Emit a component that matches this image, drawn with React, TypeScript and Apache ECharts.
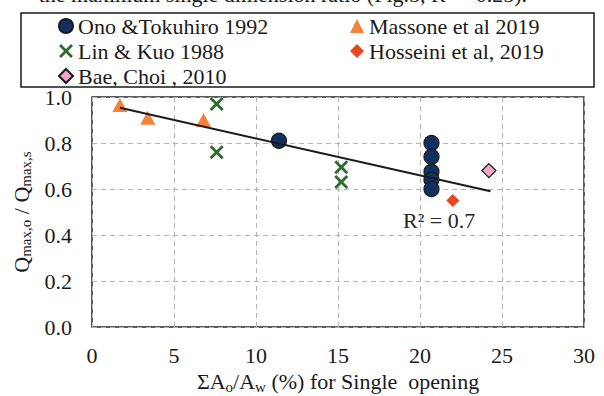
import React, { useEffect, useRef } from "react";
import * as echarts from "echarts";

const onoX = [11.4, 20.7, 20.7, 20.7, 20.7, 20.7];
const onoY = [0.81, 0.8, 0.74, 0.675, 0.64, 0.6];
const massoneX = [1.7, 3.4, 6.8];
const massoneY = [0.965, 0.91, 0.9];
const linX = [7.6, 7.6, 15.2, 15.2];
const linY = [0.97, 0.76, 0.695, 0.63];
const hosseiniX = [22.0];
const hosseiniY = [0.55];
const baeX = [24.2];
const baeY = [0.68];
const trendX = [1.7, 24.3];
const trendY = [0.953, 0.59];
const seriesNames = [
  "Ono &Tokuhiro 1992",
  "Massone et al 2019",
  "Lin & Kuo 1988",
  "Hosseini et al, 2019",
  "Bae, Choi , 2010",
];
const r2Label = "R² = 0.7";
const topText = "the maximum single dimension ratio (Fig.5, R² = 0.25).";

const FONT = "Liberation Serif";
const X_PATH =
  "path://M2,0 L7,5 L12,0 L14,2 L9,7 L14,12 L12,14 L7,9 L2,14 L0,12 L5,7 L0,2 Z";

const zip = (xs: number[], ys: number[]) => xs.map((x, i) => [x, ys[i]]);

export default function App() {
  const ref = useRef<HTMLDivElement>(null);
  useEffect(() => {
    if (!ref.current) return;
    const chart = echarts.init(ref.current, undefined, { renderer: "svg" });
    const t = { fontFamily: FONT, fontSize: 22, color: "#1a1a1a" };
    const sub = { fontFamily: FONT, fontSize: 15, color: "#1a1a1a", padding: [10, 0, 0, 0], verticalAlign: "bottom" };
    chart.setOption({
      animation: false,
      backgroundColor: "#ffffff",
      textStyle: { fontFamily: FONT },
      grid: {
        left: 92,
        right: 20,
        top: 97,
        bottom: 69,
        show: true,
        borderColor: "#262626",
        borderWidth: 1.5,
        containLabel: false,
        outerBoundsMode: "none",
      },
      legend: [
        {
          data: [seriesNames[0], seriesNames[2], seriesNames[4]],
          orient: "vertical",
          left: 53,
          top: 10,
          itemGap: 3,
          itemWidth: 14,
          itemHeight: 14,
          textStyle: t,
        },
        {
          data: [seriesNames[1], seriesNames[3]],
          orient: "vertical",
          left: 345,
          top: 10,
          itemGap: 3,
          itemWidth: 14,
          itemHeight: 14,
          textStyle: t,
        },
      ],
      graphic: [
        {
          type: "rect",
          shape: { x: 21, y: 13, width: 573, height: 74 },
          style: { fill: "none", stroke: "#1a1a1a", lineWidth: 1.5 },
          z: 100,
        },
        {
          type: "text",
          x: 527,
          y: 5,
          style: {
            text: topText,
            font: `22px ${FONT}`,
            fill: "#1a1a1a",
            textAlign: "right",
            textVerticalAlign: "bottom",
          },
        },
        {
          type: "text",
          x: 403,
          y: 220,
          style: {
            text: r2Label,
            fontFamily: FONT,
            fontSize: 22,
            fill: "#262626",
            textAlign: "left",
            textVerticalAlign: "middle",
          },
          z: 100,
        },
      ],
      xAxis: {
        type: "value",
        min: 0,
        max: 30,
        interval: 5,
        axisLine: { show: false },
        axisTick: { show: false },
        axisLabel: { ...t, margin: 17 },
        splitLine: { show: true, lineStyle: { color: "#b3b3b3", type: [5, 4], width: 1 } },
        name: "ΣA{sub|o}/A{sub|w} (%) for Single  opening",
        nameLocation: "middle",
        nameGap: 40,
        nameTextStyle: { ...t, rich: { sub } },
      },
      yAxis: {
        type: "value",
        min: 0,
        max: 1,
        interval: 0.2,
        axisLine: { show: false },
        axisTick: { show: false },
        axisLabel: { ...t, margin: 20, formatter: (v: number) => v.toFixed(1) },
        splitLine: { show: true, lineStyle: { color: "#b3b3b3", type: [5, 4], width: 1 } },
        name: "Q{sub|max,o} / Q{sub|max,s}",
        nameLocation: "middle",
        nameGap: 56,
        nameTextStyle: { ...t, rich: { sub } },
      },
      series: [
        {
          name: seriesNames[0],
          type: "scatter",
          symbol: "circle",
          symbolSize: 15,
          data: zip(onoX, onoY),
          itemStyle: { color: "#12305f", borderColor: "#1a1a1a", borderWidth: 1.2, opacity: 1 },
          z: 3,
        },
        {
          name: seriesNames[1],
          type: "scatter",
          symbol: "triangle",
          symbolSize: [15, 14],
          data: zip(massoneX, massoneY),
          itemStyle: { color: "#f5813a", opacity: 1 },
          z: 3,
        },
        {
          name: seriesNames[2],
          type: "scatter",
          symbol: X_PATH,
          symbolSize: 14,
          data: zip(linX, linY),
          itemStyle: { color: "#2f6b2c", opacity: 1 },
          z: 3,
        },
        {
          name: seriesNames[3],
          type: "scatter",
          symbol: "diamond",
          symbolSize: 13,
          data: zip(hosseiniX, hosseiniY),
          itemStyle: { color: "#e8461f", opacity: 1 },
          z: 3,
        },
        {
          name: seriesNames[4],
          type: "scatter",
          symbol: "diamond",
          symbolSize: 14,
          data: zip(baeX, baeY),
          itemStyle: { color: "#f4a6c8", borderColor: "#1a1a1a", borderWidth: 1.3, opacity: 1 },
          z: 3,
        },
        {
          name: "trend",
          type: "line",
          data: zip(trendX, trendY),
          showSymbol: false,
          symbol: "none",
          lineStyle: { color: "#1a1a1a", width: 2 },
          z: 5,
        },
      ],
    });
    return () => chart.dispose();
  }, []);
  return (
    <div
      ref={ref}
      style={{ position: "fixed", left: 0, top: 0, width: 604, height: 396, background: "#fff", fontFamily: FONT }}
    />
  );
}
